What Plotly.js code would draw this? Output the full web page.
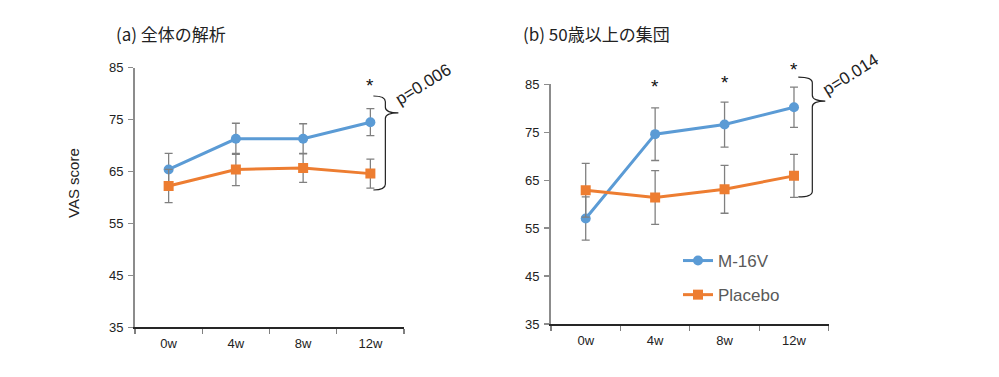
<!DOCTYPE html>
<html>
<head>
<meta charset="utf-8">
<script src="https://cdn.plot.ly/plotly-3.0.1.min.js"></script>
<style>html,body{margin:0;padding:0;background:#fff;}#chart{width:999px;height:377px;}</style>
</head>
<body>
<div id="chart"></div>
<script>
// ---- data ----
const categories = ['0w', '4w', '8w', '12w'];
const yTicks = [35, 45, 55, 65, 75, 85];

// (a) whole population
const allM16V = [65.4, 71.3, 71.3, 74.5];
const allM16VErr = [3.1, 3.0, 2.9, 2.6];
const allPlacebo = [62.2, 65.4, 65.7, 64.6];
const allPlaceboErr = [3.2, 3.1, 2.8, 2.8];

// (b) 50 years and over
const olderM16V = [57.0, 74.6, 76.6, 80.2];
const olderM16VErr = [4.5, 5.5, 4.7, 4.2];
const olderPlacebo = [62.9, 61.4, 63.1, 65.9];
const olderPlaceboErr = [5.6, 5.6, 5.0, 4.5];

const seriesNames = ['M-16V', 'Placebo'];
const titleA = '(a) 全体の解析';
const titleB = '(b) 50歳以上の集団';
const pA = 'p=0.006';
const pB = 'p=0.014';
const starsA = ['12w'];
const starsB = ['4w', '8w', '12w'];

// ---- styling ----
const BLUE = '#5B9BD5', ORANGE = '#ED7D31', ERR = '#808080';
const Y0 = 35, Y1 = 85;
const LATIN = 'Liberation Sans, Arial, sans-serif';

function trace(y, err, name, color, symbol, xa, ya, show) {
  return {
    type: 'scatter', mode: 'lines+markers', x: categories, y: y, name: name,
    xaxis: xa, yaxis: ya, showlegend: show, legendgroup: name,
    line: {color: color, width: 3},
    marker: {color: color, symbol: symbol, size: 10},
    error_y: {type: 'data', array: err, visible: true, color: ERR, thickness: 1.3, width: 4}
  };
}

const data = [
  trace(allM16V, allM16VErr, seriesNames[0], BLUE, 'circle', 'x', 'y', false),
  trace(allPlacebo, allPlaceboErr, seriesNames[1], ORANGE, 'square', 'x', 'y', false),
  trace(olderM16V, olderM16VErr, seriesNames[0], BLUE, 'circle', 'x2', 'y2', true),
  trace(olderPlacebo, olderPlaceboErr, seriesNames[1], ORANGE, 'square', 'x2', 'y2', true)
];

// domain conversion helpers (category index / data value -> domain fraction)
const fx = i => (i + 0.5) / categories.length;
const fy = v => (v - Y0) / (Y1 - Y0);

function bracePath(xLine, xHook, xTip, yTop, yBot, yTip, ry) {
  const P = (i, v) => fx(i).toFixed(4) + ',' + fy(v).toFixed(4);
  return 'M' + P(xHook, yTop) +
    ' Q' + P(xLine, yTop) + ' ' + P(xLine, yTop - ry) +
    ' L' + P(xLine, yTip + ry) +
    ' Q' + P(xLine, yTip) + ' ' + P(xTip, yTip) +
    ' Q' + P(xLine, yTip) + ' ' + P(xLine, yTip - ry) +
    ' L' + P(xLine, yBot + ry) +
    ' Q' + P(xLine, yBot) + ' ' + P(xHook, yBot);
}

const shapes = [
  {type: 'path', xref: 'x domain', yref: 'y domain',
   path: bracePath(3.223, 3.045, 3.417, 79.55, 61.44, 76.3, 1.1),
   line: {color: '#222', width: 1.2}},
  {type: 'path', xref: 'x2 domain', yref: 'y2 domain',
   path: bracePath(3.264, 3.062, 3.451, 86.5, 61.5, 81.5, 1.2),
   line: {color: '#222', width: 1.2}}
];

const annotations = [
  {text: titleA, xref: 'paper', yref: 'paper', x: 114 / 999, y: 1 - 33 / 377, xanchor: 'left', yanchor: 'middle',
   showarrow: false, font: {family: 'Noto Sans CJK JP', size: 17, color: '#222'}},
  {text: titleB, xref: 'paper', yref: 'paper', x: 521 / 999, y: 1 - 33 / 377, xanchor: 'left', yanchor: 'middle',
   showarrow: false, font: {family: 'Noto Sans CJK JP', size: 17, color: '#222'}},
  {text: 'VAS score', xref: 'paper', yref: 'paper', x: 73 / 999, y: 1 - 183 / 377, textangle: -90,
   xanchor: 'center', yanchor: 'middle', showarrow: false,
   font: {family: LATIN, size: 15, color: '#222'}},
  {text: pA, xref: 'paper', yref: 'paper', x: 423 / 999, y: 1 - 84 / 377, textangle: -32,
   xanchor: 'center', yanchor: 'middle',
   showarrow: false, font: {family: LATIN, size: 17, color: '#222'}},
  {text: pB, xref: 'paper', yref: 'paper', x: 851 / 999, y: 1 - 75 / 377, textangle: -32,
   xanchor: 'center', yanchor: 'middle',
   showarrow: false, font: {family: LATIN, size: 17, color: '#222'}}
];
const starY_A = {'12w': 81.6};
const starY_B = {'4w': 84.6, '8w': 85.4, '12w': 88.1};
const idx = c => categories.indexOf(c);
starsA.forEach(c => annotations.push({text: '*', xref: 'x domain', yref: 'y domain', x: fx(idx(c)), y: fy(starY_A[c]),
  xanchor: 'center', yanchor: 'middle', showarrow: false, font: {family: LATIN, size: 19, color: '#111'}}));
starsB.forEach(c => annotations.push({text: '*', xref: 'x2 domain', yref: 'y2 domain', x: fx(idx(c)), y: fy(starY_B[c]),
  xanchor: 'center', yanchor: 'middle', showarrow: false, font: {family: LATIN, size: 19, color: '#111'}}));

function xaxis(domain, anchor) {
  return {domain: domain, anchor: anchor, type: 'category', range: [-0.5, 3.5],
    showline: true, linecolor: '#262626', linewidth: 1.5, showgrid: false, zeroline: false,
    ticks: 'outside', tickson: 'boundaries', ticklen: 5, tickcolor: '#808080', tickwidth: 1.3,
    ticklabelstandoff: 4,
    tickfont: {family: LATIN, size: 13, color: '#222'}, fixedrange: true};
}
function yaxis(domain, anchor) {
  return {domain: domain, anchor: anchor, range: [Y0, Y1], tickvals: yTicks,
    showline: true, linecolor: '#8c8c8c', linewidth: 2, showgrid: false, zeroline: false,
    ticks: 'outside', ticklen: 5, tickcolor: '#8c8c8c', tickwidth: 1.3,
    ticklabelstandoff: 2,
    tickfont: {family: LATIN, size: 13, color: '#222'}, fixedrange: true};
}

const layout = {
  width: 999, height: 377, margin: {l: 0, r: 0, t: 0, b: 0},
  paper_bgcolor: '#fff', plot_bgcolor: '#fff',
  xaxis: xaxis([135 / 999, 404 / 999], 'y'),
  yaxis: yaxis([1 - 327.3 / 377, 1 - 67.7 / 377], 'x'),
  xaxis2: xaxis([551 / 999, 828.7 / 999], 'y2'),
  yaxis2: yaxis([1 - 324 / 377, 1 - 84.3 / 377], 'x2'),
  showlegend: true,
  legend: {x: 678 / 999, y: 1 - 243 / 377, xanchor: 'left', yanchor: 'top', bgcolor: 'rgba(0,0,0,0)',
    font: {family: LATIN, size: 17, color: '#595959'}, tracegroupgap: 9},
  shapes: shapes,
  annotations: annotations
};

Plotly.newPlot('chart', data, layout, {displayModeBar: false, staticPlot: true});
</script>
</body>
</html>
